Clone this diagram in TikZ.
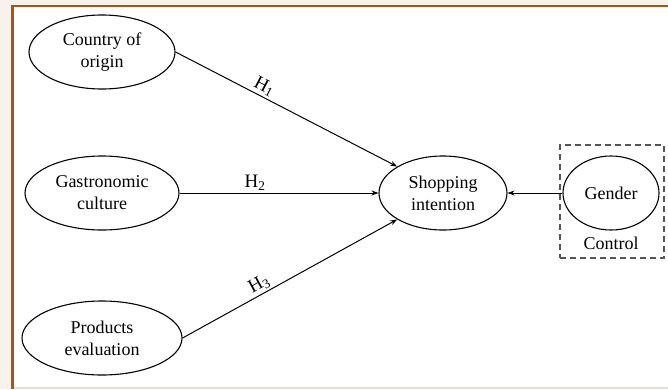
\documentclass[tikz,border=0pt]{standalone}
\usepackage{fontspec}
\setmainfont{Liberation Serif}
\usetikzlibrary{shapes.geometric,arrows.meta}
\definecolor{framebrown}{RGB}{168,84,22}
\definecolor{edgebeige}{RGB}{236,222,206}
\definecolor{dashgray}{RGB}{85,85,85}
\begin{document}
\begin{tikzpicture}[x=1pt,y=-1pt,
  oval/.style={ellipse,draw,line width=1.1pt,inner sep=0pt,align=center,
    font=\fontsize{18}{22}\selectfont},
  arr/.style={line width=1pt,-{Stealth[length=7pt,width=5pt]}},
  hlab/.style={font=\fontsize{19}{21}\selectfont,inner sep=2pt,sloped,above,pos=0.38}]
\useasboundingbox (0,0) rectangle (668,389);
\fill[edgebeige!40] (0,0) rectangle (668,5);
\fill[edgebeige!40] (0,0) rectangle (11,389);
\fill[framebrown] (11,4.5) rectangle (668,7);
\fill[framebrown] (11,4.5) rectangle (13.5,389);
\fill[edgebeige] (13.5,387) rectangle (668,389);

\node[oval,minimum width=146pt,minimum height=74pt] (coo) at (102,52) {Country of\\origin};
\node[oval,minimum width=154pt,minimum height=74pt] (gc) at (102,193) {Gastronomic\\culture};
\node[oval,minimum width=160pt,minimum height=74pt] (pe) at (102,338) {Products\\evaluation};
\node[oval,minimum width=128pt,minimum height=74pt] (si) at (443,193) {Shopping\\intention};
\node[oval,minimum width=96pt,minimum height=74pt] (gen) at (611,193) {Gender};
\node[draw=dashgray,dashed,dash pattern=on 6pt off 4pt,line width=1.1pt,
  minimum width=104pt,minimum height=113pt,inner sep=0pt] (box) at (612,201.5) {};
\node[font=\fontsize{18}{22}\selectfont] (ctl) at (611,243) {Control};

\draw[arr] (coo.east) -- node[hlab] {H$_{\mathrm{1}}$} (si.150);
\draw[arr] (gc.east) -- node[hlab] {H$_{\mathrm{2}}$} (si.west);
\draw[arr] (pe.east) -- node[hlab] {H$_{\mathrm{3}}$} (si.210);
\draw[arr] (gen.west) -- (si.east);
\end{tikzpicture}
\end{document}
